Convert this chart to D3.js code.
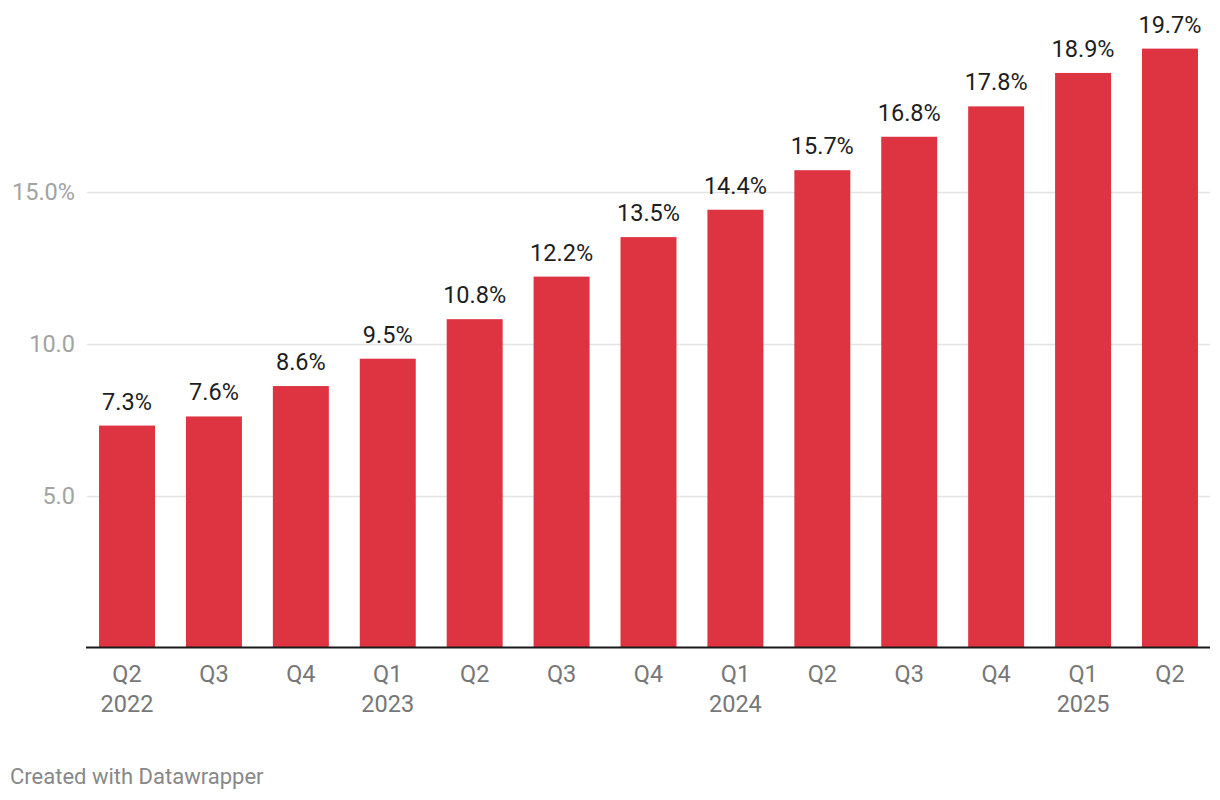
<!DOCTYPE html>
<html>
<head>
<meta charset="utf-8">
<script src="https://cdn.jsdelivr.net/npm/d3@7"></script>
<style>
  html, body { margin: 0; padding: 0; background: #fff; }
  svg { display: block; font-family: Roboto, "Noto Sans", sans-serif; }
</style>
</head>
<body>
<svg id="chart" width="1220" height="800"></svg>
<script>
const quarters = ["Q2", "Q3", "Q4", "Q1", "Q2", "Q3", "Q4", "Q1", "Q2", "Q3", "Q4", "Q1", "Q2"];
const years    = ["2022", "", "", "2023", "", "", "", "2024", "", "", "", "2025", ""];
const values   = [7.3, 7.6, 8.6, 9.5, 10.8, 12.2, 13.5, 14.4, 15.7, 16.8, 17.8, 18.9, 19.7];
const yTicks   = [5, 10, 15];
const yTickLabels = ["5.0", "10.0", "15.0%"];
const footer = "Created with Datawrapper";

const svg = d3.select("#chart");
const idx = values.map((d, i) => i);
const FS = 23.5;

const x = d3.scaleBand()
  .domain(idx)
  .range([86, 1211])
  .paddingInner(0.356)
  .paddingOuter(0.15);

const y = d3.scaleLinear()
  .domain([0, 20])
  .range([647.5, 39.5]);

// gridlines
svg.append("g").selectAll("line")
  .data(yTicks)
  .join("line")
  .attr("x1", 87).attr("x2", 1210)
  .attr("y1", d => Math.round(y(d)) + 0.5)
  .attr("y2", d => Math.round(y(d)) + 0.5)
  .attr("stroke", "#e3e3e3")
  .attr("stroke-width", 1.5);

// y tick labels
svg.append("g").selectAll("text")
  .data(yTicks)
  .join("text")
  .attr("x", 75)
  .attr("y", d => y(d) + 8.5)
  .attr("text-anchor", "end")
  .attr("fill", "#a3a3a3")
  .attr("font-size", FS)
  .text((d, i) => yTickLabels[i]);

// bars
svg.append("g").selectAll("rect")
  .data(values)
  .join("rect")
  .attr("x", (d, i) => x(i))
  .attr("width", x.bandwidth())
  .attr("y", d => y(d))
  .attr("height", d => y(0) - y(d))
  .attr("fill", "#de3442");

// value labels
svg.append("g").selectAll("text")
  .data(values)
  .join("text")
  .attr("x", (d, i) => x(i) + x.bandwidth() / 2)
  .attr("y", d => y(d) - 16)
  .attr("text-anchor", "middle")
  .attr("fill", "#1d1d1d")
  .attr("font-size", FS)
  .text(d => d.toFixed(1) + "%");

// baseline
svg.append("line")
  .attr("x1", 86).attr("x2", 1210)
  .attr("y1", y(0)).attr("y2", y(0))
  .attr("stroke", "#1a1a1a")
  .attr("stroke-width", 2);

// x labels
const xl = svg.append("g").selectAll("text")
  .data(idx)
  .join("text")
  .attr("x", i => x(i) + x.bandwidth() / 2)
  .attr("text-anchor", "middle")
  .attr("fill", "#777")
  .attr("font-size", FS);
xl.append("tspan")
  .attr("x", i => x(i) + x.bandwidth() / 2)
  .attr("y", 682)
  .text(i => quarters[i]);
xl.append("tspan")
  .attr("x", i => x(i) + x.bandwidth() / 2)
  .attr("y", 712)
  .text(i => years[i]);

// footer
svg.append("text")
  .attr("x", 10)
  .attr("y", 784)
  .attr("fill", "#888")
  .attr("font-size", 22)
  .text(footer);
</script>
</body>
</html>
